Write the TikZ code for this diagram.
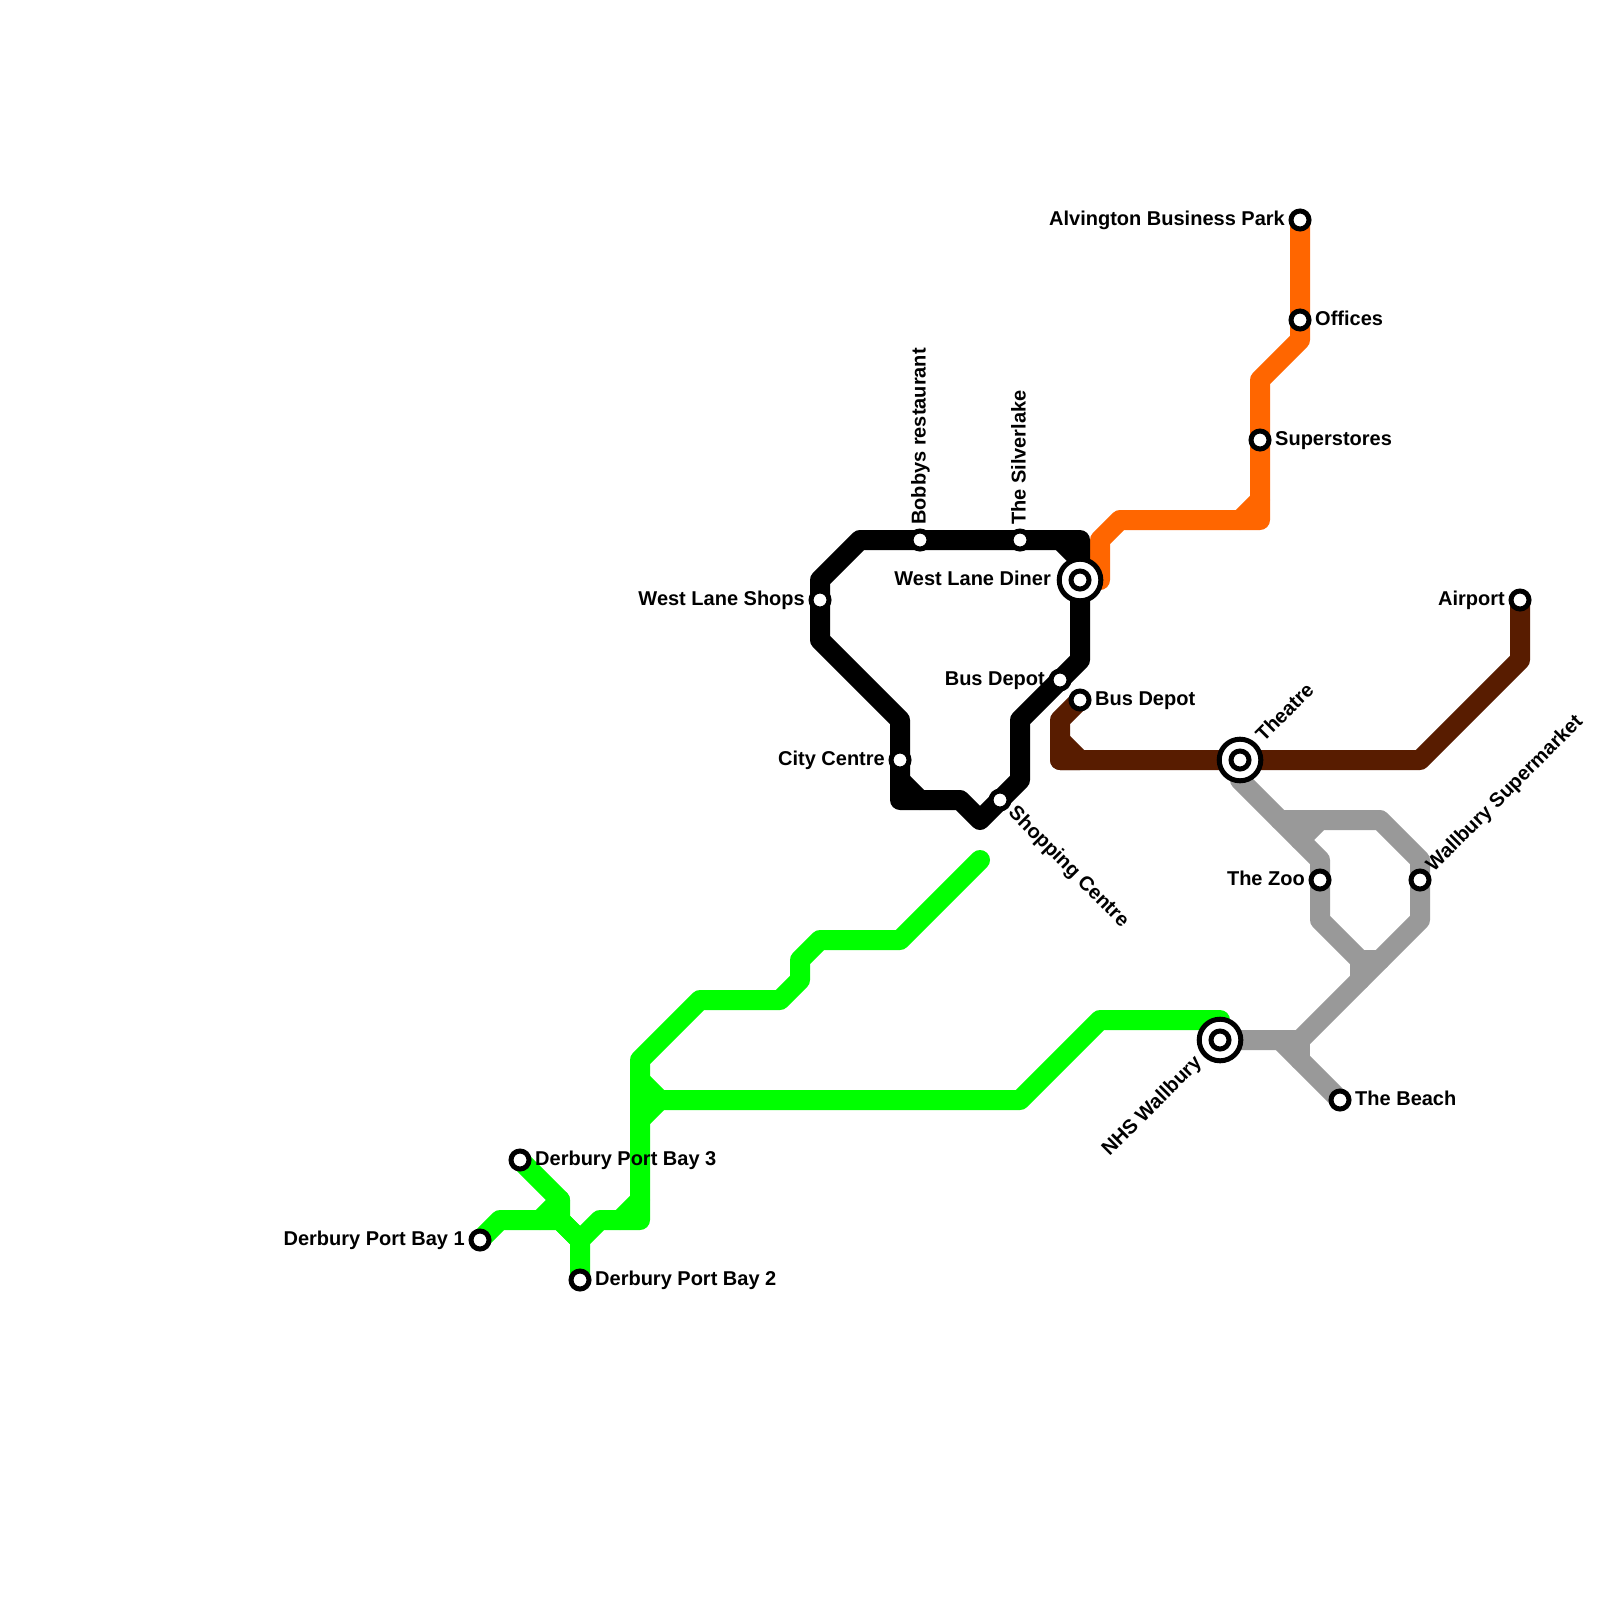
\documentclass[tikz,border=0pt]{standalone}
\usepackage{fontspec}
\setmainfont{Liberation Sans}
\usetikzlibrary{backgrounds}
\definecolor{lgreen}{HTML}{00FF00}
\definecolor{lorange}{HTML}{FF6600}
\definecolor{lbrown}{HTML}{581C00}
\definecolor{lgrey}{HTML}{999999}
\tikzset{
  x=1pt,y=-1pt,
  metro/.style={line width=20pt,line join=round,line cap=round},
  stn/.style={circle,draw=black,fill=white,line width=5pt,minimum size=18pt,inner sep=0pt,outer sep=0pt},
  hub/.style={circle,draw=black,fill=white,line width=5pt,minimum size=41.6pt,inner sep=0pt,outer sep=0pt},
  lbl/.style={font=\fontsize{20}{20}\selectfont\bfseries,text=black,inner sep=0pt},
  lr/.style={lbl,anchor=base west},
  ll/.style={lbl,anchor=base east}
}
\begin{document}
\begin{tikzpicture}
\useasboundingbox (0,0) rectangle (1600,1600);
% stations
\node[stn] (bay1) at (480,1240) {};
\node[stn] (bay2) at (580,1280) {};
\node[stn] (bay3) at (520,1160) {};
\node[stn] (shops) at (820,600) {};
\node[stn] (bobbys) at (920,540) {};
\node[stn] (silver) at (1020,540) {};
\node[hub] (dinerO) at (1080,580) {};
\node[stn] (diner) at (1080,580) {};
\node[stn] (depotA) at (1060,680) {};
\node[stn] (depotB) at (1080,700) {};
\node[stn] (city) at (900,760) {};
\node[stn] (shopping) at (1000,800) {};
\node[stn] (alv) at (1300,220) {};
\node[stn] (offices) at (1300,320) {};
\node[stn] (super) at (1260,440) {};
\node[hub] (theatreO) at (1240,760) {};
\node[stn] (theatre) at (1240,760) {};
\node[stn] (airport) at (1520,600) {};
\node[stn] (zoo) at (1320,880) {};
\node[stn] (wsm) at (1420,880) {};
\node[hub] (nhsO) at (1220,1040) {};
\node[stn] (nhs) at (1220,1040) {};
\node[stn] (beach) at (1340,1100) {};
% labels
\node[ll] (tbay1) at (465,1245.5) {Derbury Port Bay 1};
\node[lr] (tbay2) at (595,1285.5) {Derbury Port Bay 2};
\node[lr] (tbay3) at (535,1165.5) {Derbury Port Bay 3};
\node[ll] (tshops) at (805,605.5) {West Lane Shops};
\node[lbl,anchor=base west,rotate=90] (tbobbys) at (925.5,525) {Bobbys restaurant};
\node[lbl,anchor=base west,rotate=90] (tsilver) at (1025.5,525) {The Silverlake};
\node[ll] (tdiner) at (1051,585.5) {West Lane Diner};
\node[ll] (tdepotA) at (1045,685.5) {Bus Depot};
\node[lr] (tdepotB) at (1095,705.5) {Bus Depot};
\node[ll] (tcity) at (885,765.5) {City Centre};
\node[lbl,anchor=base west,rotate=-45] (tshopping) at (1007.4,813.8) {Shopping Centre};
\node[ll] (talv) at (1285,225.5) {Alvington Business Park};
\node[lr] (toffices) at (1315,325.5) {Offices};
\node[lr] (tsuper) at (1275,445.5) {Superstores};
\node[lbl,anchor=base west,rotate=45] (ttheatre) at (1263.7,742.7) {Theatre};
\node[ll] (tairport) at (1505,605.5) {Airport};
\node[ll] (tzoo) at (1305,885.5) {The Zoo};
\node[lbl,anchor=base west,rotate=45] (twsm) at (1433.8,872.6) {Wallbury Supermarket};
\node[lbl,anchor=base east,rotate=45] (tnhs) at (1202.7,1063.7) {NHS Wallbury};
\node[lr] (tbeach) at (1355,1105.5) {The Beach};
% lines
\begin{pgfonlayer}{background}
\fill[white] (0,0) rectangle (1600,1600);
% green
\draw[metro,lgreen] (980,860) -- (900,940) -- (820,940) -- (800,960) -- (800,980) -- (780,1000) -- (700,1000) -- (640,1060) -- (640,1220) -- (600,1220) -- (580,1240) -- (bay2.center);
\draw[metro,lgreen] (620,1220) -- (640,1200);
\draw[metro,lgreen] (nhs.center) -- (1220,1020) -- (1100,1020) -- (1020,1100) -- (660,1100) -- (640,1080);
\draw[metro,lgreen] (660,1100) -- (640,1120);
\draw[metro,lgreen] (bay3.center) -- (560,1200) -- (560,1220) -- (580,1240);
\draw[metro,lgreen] (bay1.center) -- (500,1220) -- (560,1220) -- (580,1240);
\draw[metro,lgreen] (540,1220) -- (560,1200);
% grey
\draw[metro,lgrey] (theatre.center) -- (1240,780) -- (1320,860) -- (zoo.center) -- (1320,920) -- (1360,960) -- (1380,960);
\draw[metro,lgrey] (1360,960) -- (1360,980);
\draw[metro,lgrey] (1300,840) -- (1320,820) -- (1380,820) -- (1420,860) -- (wsm.center) -- (1420,920) -- (1300,1040) -- (nhs.center);
\draw[metro,lgrey] (1280,820) -- (1320,820);
\draw[metro,lgrey] (1280,1040) -- (beach.center);
\draw[metro,lgrey] (1300,1040) -- (1300,1060);
% brown
\draw[metro,lbrown] (depotB.center) -- (1060,720) -- (1060,760) -- (theatre.center) -- (1420,760) -- (1520,660) -- (airport.center);
\draw[metro,lbrown] (1060,740) -- (1080,760) -- (1060,760);
% orange
\draw[metro,lorange] (alv.center) -- (1300,340) -- (1260,380) -- (1260,520) -- (1120,520) -- (1100,540) -- (1100,580) -- (diner.center);
\draw[metro,lorange] (1260,500) -- (1240,520);
% black
\draw[metro,black] (diner.center) -- (1080,540) -- (860,540) -- (820,580) -- (820,640) -- (900,720) -- (900,800) -- (960,800) -- (980,820) -- (1020,780) -- (1020,720) -- (1080,660) -- (diner.center);
\draw[metro,black] (1060,540) -- (1080,560);
\draw[metro,black] (900,780) -- (920,800);
\end{pgfonlayer}
\end{tikzpicture}
\end{document}
